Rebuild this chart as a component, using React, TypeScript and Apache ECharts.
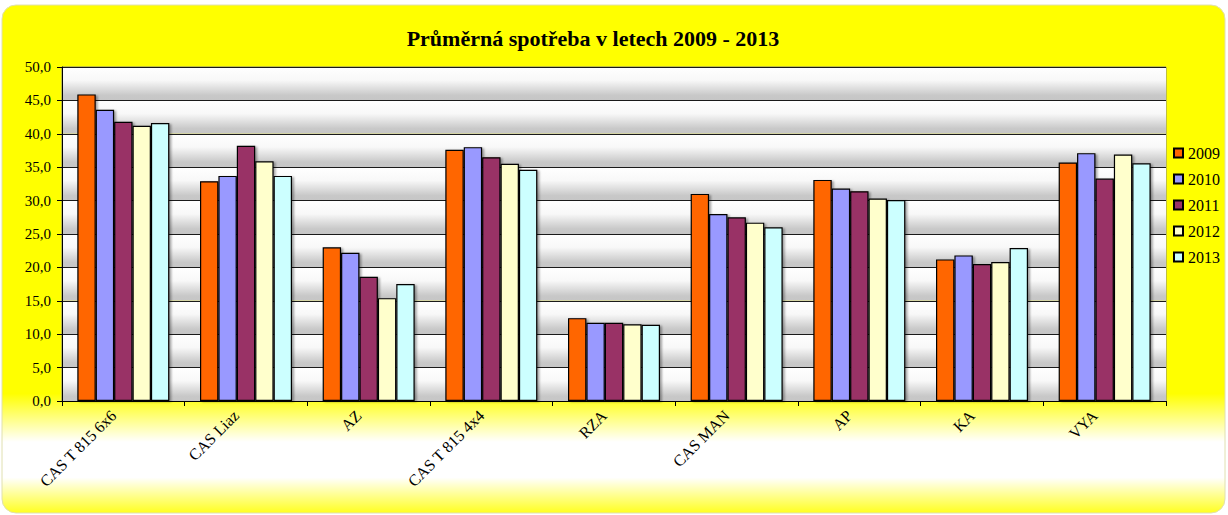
import React, { useEffect, useRef } from "react";
import * as echarts from "echarts";

const categories = ["CAS T 815 6x6", "CAS Liaz", "AZ", "CAS T 815 4x4", "RZA", "CAS MAN", "AP", "KA", "VYA"];
const years = ["2009", "2010", "2011", "2012", "2013"];
const v2009 = [45.9, 32.9, 23.0, 37.6, 12.4, 31.0, 33.1, 21.2, 35.7];
const v2010 = [43.6, 33.7, 22.2, 38.0, 11.7, 28.0, 31.8, 21.8, 37.1];
const v2011 = [41.8, 38.2, 18.6, 36.5, 11.7, 27.5, 31.4, 20.5, 33.3];
const v2012 = [41.2, 35.9, 15.4, 35.5, 11.5, 26.7, 30.3, 20.8, 36.9];
const v2013 = [41.6, 33.7, 17.5, 34.6, 11.4, 26.0, 30.1, 22.9, 35.6];
const seriesValues = [v2009, v2010, v2011, v2012, v2013];
const colors = ["#FF6600", "#9999FF", "#993366", "#FFFFCC", "#CCFFFF"];
const titleText = "Průměrná spotřeba v letech 2009 - 2013";

const FONT = "'Liberation Serif', 'Times New Roman', serif";

export default function App() {
  const ref = useRef<HTMLDivElement>(null);
  useEffect(() => {
    document.body.style.margin = "0";
    const chart = echarts.init(ref.current!, null, { renderer: "svg" });
    const bandGrad = new echarts.graphic.LinearGradient(0, 0, 0, 1, [
      { offset: 0, color: "#ffffff" },
      { offset: 0.4, color: "#f8f8f8" },
      { offset: 0.85, color: "#c8c8c8" },
      { offset: 1, color: "#c6c6c6" },
    ]);
    const option: any = {
      animation: false,
      backgroundColor: "#ffffff",
      title: {
        text: titleText,
        left: 588,
        top: 22,
        textAlign: "center",
        textStyle: { fontFamily: FONT, fontSize: 22, fontWeight: "bold", color: "#000" },
      },
      graphic: [
        {
          type: "rect",
          z: -10,
          silent: true,
          shape: { x: 2, y: 5, width: 1223, height: 508, r: 14 },
          style: {
            fill: new echarts.graphic.LinearGradient(0, 0, 0, 1, [
              { offset: 0, color: "#FFFF00" },
              { offset: 0.765, color: "#FFFF00" },
              { offset: 0.86, color: "#FFFFFF" },
              { offset: 0.93, color: "#FFFFFF" },
              { offset: 1, color: "#FFFF20" },
            ]),
            stroke: "#e0e0b0",
            lineWidth: 1,
          },
        },
      ],
      legend: {
        orient: "vertical",
        left: 1168,
        top: 140,
        itemWidth: 9,
        itemHeight: 9,
        itemGap: 10,
        icon: "rect",
        data: years,
        textStyle: { fontFamily: FONT, fontSize: 16, color: "#000", padding: [2, 0, 0, 0] },
      },
      grid: {
        left: 62,
        right: 62,
        top: 67,
        bottom: 114,
        show: true,
        borderColor: "#808080",
        borderWidth: 1,
      },
      xAxis: {
        type: "category",
        data: categories,
        axisLine: { lineStyle: { color: "#000", width: 1 } },
        axisTick: { show: true, length: 5, lineStyle: { color: "#000" } },
        axisLabel: {
          rotate: 45,
          interval: 0,
          fontFamily: FONT,
          fontSize: 16,
          color: "#000",
          margin: 2,
          padding: [0, 14, 0, 0],
        },
      },
      yAxis: {
        type: "value",
        min: 0,
        max: 50,
        interval: 5,
        axisLine: { show: true, lineStyle: { color: "#000", width: 1 } },
        axisTick: { show: true, length: 5, lineStyle: { color: "#000" } },
        axisLabel: {
          fontFamily: FONT,
          fontSize: 15,
          color: "#000",
          margin: 11,
          formatter: (v: number) => v.toFixed(1).replace(".", ","),
        },
        splitLine: { show: true, lineStyle: { color: "#1a1a1a", width: 1.2 } },
        splitArea: { show: true, areaStyle: { color: [bandGrad, bandGrad] } },
      },
      series: years.map((y, i) => ({
        name: y,
        type: "bar",
        data: seriesValues[i],
        barGap: "0%",
        barCategoryGap: "25%",
        itemStyle: {
          color: colors[i],
          borderColor: "#000",
          borderWidth: 1.2,
          shadowColor: "rgba(0,0,0,0.35)",
          shadowOffsetX: 2,
          shadowOffsetY: 1,
          shadowBlur: 2,
        },
      })),
    };
    chart.setOption(option);
    return () => chart.dispose();
  }, []);
  return (
    <div
      ref={ref}
      style={{ position: "absolute", left: 0, top: 0, width: 1228, height: 515 }}
    />
  );
}
